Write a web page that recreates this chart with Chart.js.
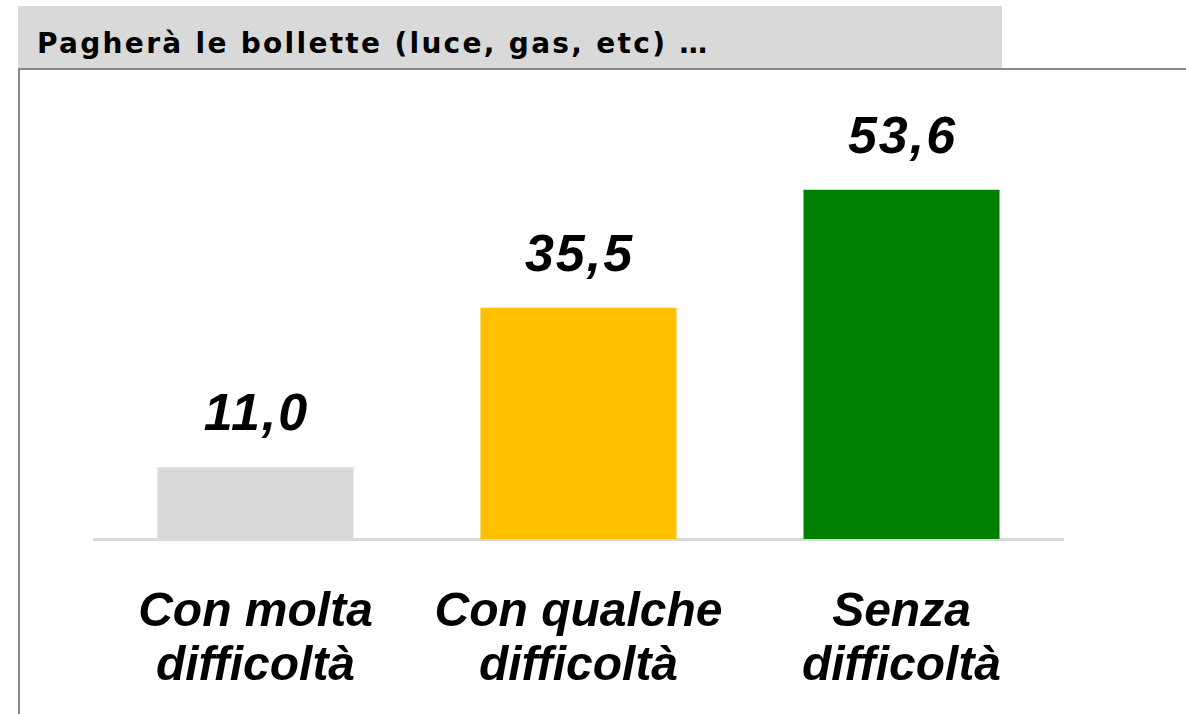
<!DOCTYPE html>
<html>
<head>
<meta charset="utf-8">
<script src="https://cdn.jsdelivr.net/npm/chart.js@4.4.1/dist/chart.umd.min.js"></script>
<style>
  html, body { margin: 0; padding: 0; background: #fff; }
  body { width: 1186px; height: 714px; position: relative; overflow: hidden; font-family: "Liberation Sans", Arial, sans-serif; }
  #header { position: absolute; left: 18px; top: 6px; width: 984px; height: 62px; background: #d9d9d9; }
  #header span { position: absolute; left: 19px; top: 24px; font-family: "DejaVu Sans", sans-serif; font-size: 28px; font-weight: bold; letter-spacing: 2.3px; color: #000; white-space: nowrap; line-height: 1; }
  #frame { position: absolute; left: 18px; top: 68px; width: 1170px; height: 660px; border-top: 2px solid #888; border-left: 2px solid #888; }
  #wrap { position: absolute; left: 0; top: 0; width: 1186px; height: 714px; }
</style>
</head>
<body>
<div id="header"><span>Pagherà le bollette (luce, gas, etc) …</span></div>
<div id="frame"></div>
<div id="wrap"><canvas id="chart" width="1186" height="714"></canvas></div>
<script>
const categories = [['Con molta', 'difficoltà'], ['Con qualche', 'difficoltà'], ['Senza', 'difficoltà']];
const values = [11.0, 35.5, 53.6];
const barColors = ['#d9d9d9', '#ffc000', '#008000'];

const valueLabels = {
  id: 'valueLabels',
  afterDatasetsDraw(chart) {
    const ctx = chart.ctx;
    const meta = chart.getDatasetMeta(0);
    ctx.save();
    ctx.font = 'italic bold 52px "Liberation Sans", Arial, sans-serif';
    ctx.letterSpacing = '2px';
    ctx.fillStyle = '#000';
    ctx.textAlign = 'center';
    ctx.textBaseline = 'alphabetic';
    meta.data.forEach((bar, i) => {
      ctx.fillText(values[i].toFixed(1).replace('.', ','), bar.x + 1, bar.y - 37);
    });
    ctx.restore();
  }
};

new Chart(document.getElementById('chart'), {
  type: 'bar',
  data: {
    labels: categories,
    datasets: [{
      data: values,
      backgroundColor: barColors,
      borderWidth: 0,
      barPercentage: 0.607,
      categoryPercentage: 1
    }]
  },
  options: {
    responsive: false,
    animation: false,
    layout: { padding: { left: 94, right: 123, top: 148, bottom: -27 } },
    plugins: { legend: { display: false }, tooltip: { enabled: false } },
    scales: {
      x: {
        grid: { display: false, drawTicks: false },
        border: { color: '#d9d9d9', width: 3 },
        ticks: {
          color: '#000',
          padding: 47,
          maxRotation: 0,
          font: { family: '"Liberation Sans", Arial, sans-serif', size: 48, style: 'italic', weight: 'bold', lineHeight: 1.125 }
        }
      },
      y: {
        display: false,
        min: 0,
        max: 60
      }
    }
  },
  plugins: [valueLabels]
});
</script>
</body>
</html>
